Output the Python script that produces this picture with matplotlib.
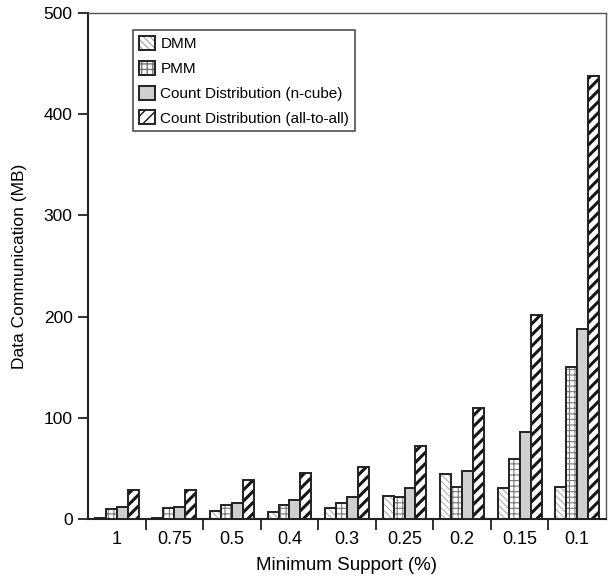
import numpy as np
import matplotlib
matplotlib.use("Agg")
import matplotlib.pyplot as plt

plt.rcParams['font.family'] = ['Liberation Sans', 'DejaVu Sans']

# data
supports = ['1', '0.75', '0.5', '0.4', '0.3', '0.25', '0.2', '0.15', '0.1']
dmm = [1, 1, 8, 7, 11, 23, 44, 31, 32]
pmm = [10, 11, 14, 14, 16, 22, 32, 59, 150]
cd_ncube = [12, 12, 16, 19, 22, 31, 47, 86, 188]
cd_all = [29, 29, 39, 45, 51, 72, 110, 202, 438]

labels = ['DMM', 'PMM', 'Count Distribution (n-cube)', 'Count Distribution (all-to-all)']

fig = plt.figure(figsize=(6.09, 5.84), dpi=100)
ax = fig.add_axes([88 / 609, 65 / 584, 518 / 609, 506 / 584])

x = np.arange(len(supports))
w = 0.19
series = [dmm, pmm, cd_ncube, cd_all]
styles = [
    dict(fc='white', hatch='\\\\\\\\\\', hc='#b0b0b0', hlw=0.8),
    dict(fc='white', hatch='+++', hc='#777777', hlw=0.8),
    dict(fc='#cfcfcf', hatch=None, hc=None, hlw=1.0),
    dict(fc='white', hatch='///', hc='#151515', hlw=2.2),
]

handles = []
for i, (vals, st) in enumerate(zip(series, styles)):
    with plt.rc_context({'hatch.linewidth': st['hlw']}):
        bars = ax.bar(x + (i - 1.5) * w, vals, width=w, facecolor=st['fc'],
                      edgecolor='#222222', linewidth=1.4, label=labels[i], zorder=3)
        for b in bars:
            if st['hatch']:
                b.set_hatch(st['hatch'])
                b._hatch_color = matplotlib.colors.to_rgba(st['hc'])
                if hasattr(b, 'set_hatch_linewidth'):
                    b.set_hatch_linewidth(st['hlw'])
    handles.append(bars)

ax.set_xlim(-0.5, len(supports) - 0.5)
ax.set_ylim(0, 500)
ax.set_yticks([0, 100, 200, 300, 400, 500])

# group labels without ticks, separator ticks between groups
ax.set_xticks(x)
ax.set_xticklabels(supports, fontsize=13)
ax.tick_params(axis='x', length=0, pad=9)
ax.set_xticks(np.arange(0.5, len(supports) - 0.5, 1), minor=True)
ax.tick_params(axis='x', which='minor', length=8, width=1.3, direction='out', color='#222222')
ax.tick_params(axis='y', length=7, width=1.3, direction='out', labelsize=12.5, color='#222222', pad=4)

for s in ['left', 'bottom']:
    ax.spines[s].set_linewidth(1.5)
    ax.spines[s].set_color('#222222')
for s in ['top', 'right']:
    ax.spines[s].set_linewidth(1.0)
    ax.spines[s].set_color('#555555')

ax.set_xlabel('Minimum Support (%)', fontsize=13.5, labelpad=6)
ax.set_ylabel('Data Communication (MB)', fontsize=12.5, labelpad=12)

leg = ax.legend(handles=handles, loc='upper left', bbox_to_anchor=(0.087, 0.966),
                fontsize=11, frameon=True, fancybox=False, edgecolor='#222222',
                handlelength=1.05, handleheight=1.05, handletextpad=0.35,
                labelspacing=0.62, borderpad=0.38, borderaxespad=0)
leg.get_frame().set_linewidth(1.2)

fig.savefig('out.png', dpi=100)
